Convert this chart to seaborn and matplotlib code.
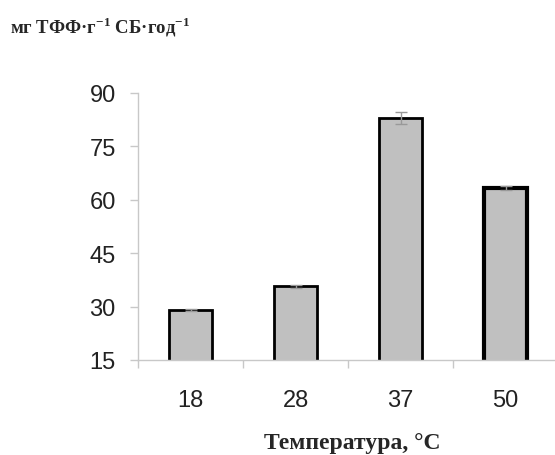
import matplotlib
matplotlib.use("Agg")
import matplotlib.pyplot as plt
import seaborn as sns
import numpy as np
import pandas as pd

categories = ["18", "28", "37", "50"]
values = [29.0, 35.7, 83.0, 63.3]
errors = [0.2, 0.4, 1.6, 0.6]
y_ticks = [15, 30, 45, 60, 75, 90]
title_text = r"мг ТФФ·г$^{\mathbf{-1}}$ СБ·год$^{\mathbf{-1}}$"
xlabel_text = "Температура, °C"

sns.set_theme(style="white")
plt.rcParams["font.family"] = ["Liberation Sans", "DejaVu Sans"]
plt.rcParams["mathtext.fontset"] = "custom"
plt.rcParams["mathtext.bf"] = "Liberation Serif:bold"
plt.rcParams["mathtext.rm"] = "Liberation Serif:bold"

df = pd.DataFrame({"t": categories, "v": values})

fig = plt.figure(figsize=(5.55, 4.56), dpi=100)
ax = fig.add_axes([138/555, 1-361/456, 420/555, (361-94)/456])

sns.barplot(data=df, x="t", y="v", ax=ax, color="#c0c0c0", saturation=1,
            width=0.41, edgecolor="black", linewidth=2, errorbar=None)
for i, p in enumerate(ax.patches):
    if i == 3:
        p.set_linewidth(3)
ax.errorbar(np.arange(len(categories)), values, yerr=errors, fmt="none",
            ecolor="#999999", elinewidth=1, capsize=4, capthick=1, zorder=3)

ax.set_ylim(15, 90)
ax.set_xlim(-0.5, 3.5)
ax.set_yticks(y_ticks)
ax.set_xlabel("")
ax.set_ylabel("")
for s in ["top", "right"]:
    ax.spines[s].set_visible(False)
for s in ["left", "bottom"]:
    ax.spines[s].set_color("#c8c8c8")
    ax.spines[s].set_linewidth(1)

ax.set_xticks([-0.5, 0.5, 1.5, 2.5, 3.5], minor=True)
ax.tick_params(axis="x", which="major", length=0, pad=21, labelsize=17, labelcolor="#222222")
ax.tick_params(axis="x", which="minor", length=6, width=1, color="#c8c8c8", direction="out", bottom=True)
ax.tick_params(axis="y", length=6, width=1, color="#c8c8c8", direction="out", left=True,
               pad=10, labelsize=17, labelcolor="#222222")

fig.text(10/555, 1-27/456, title_text, fontsize=13.5, fontweight="bold",
         family="Liberation Serif", va="center", ha="left")
fig.text(352/555, 1-444/456, xlabel_text, fontsize=17, fontweight="bold",
         family="Liberation Serif", va="center", ha="center")

fig.savefig("out.png", dpi=100)
